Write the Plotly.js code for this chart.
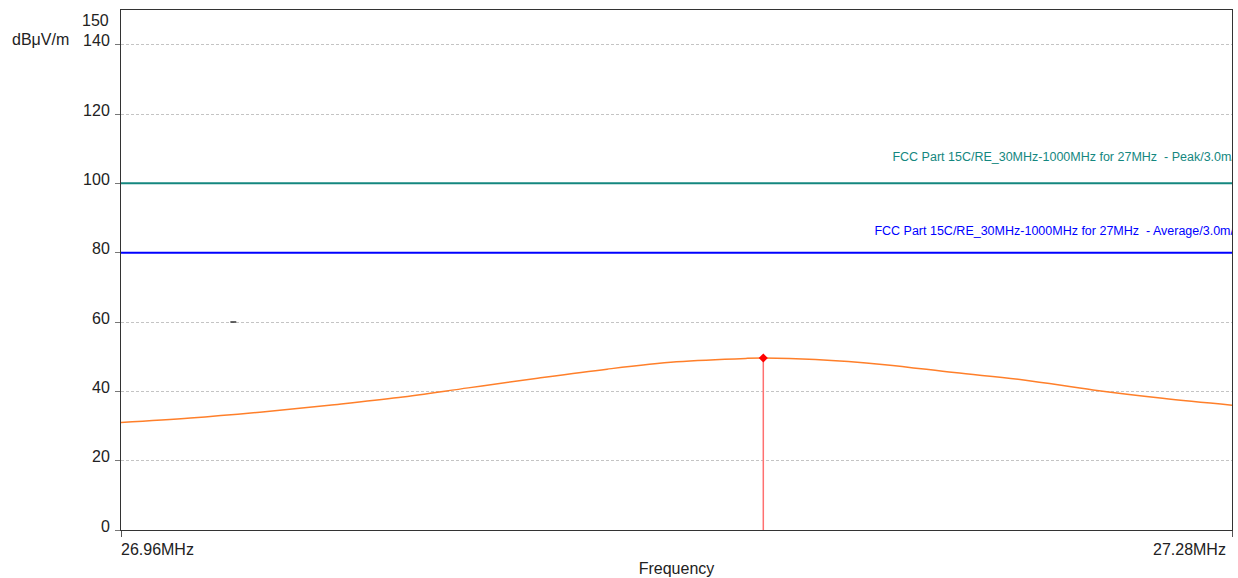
<!DOCTYPE html>
<html>
<head>
<meta charset="utf-8">
<script src="https://cdn.plot.ly/plotly-3.0.1.min.js"></script>
<style>html,body{margin:0;padding:0;background:#fff;}#chart{width:1238px;height:578px;}</style>
</head>
<body>
<div id="chart"></div>
<script>
// Data (frequency in MHz, level in dBµV/m)
const freqMHz = [26.96, 26.98, 27.00, 27.02, 27.04, 27.06, 27.08, 27.10, 27.12, 27.14, 27.145, 27.16, 27.18, 27.20, 27.22, 27.24, 27.26, 27.28];
const levelDb = [31.0, 32.3, 34.0, 36.0, 38.2, 41.0, 43.8, 46.4, 48.5, 49.5, 49.6, 49.2, 47.7, 45.4, 43.3, 40.4, 38.0, 36.0];
const peakFreq = 27.145;
const peakLevel = 49.6;
const limitPeakLevel = 100;
const limitAvgLevel = 80;
const limitPeakLabel = "FCC Part 15C/RE_30MHz-1000MHz for 27MHz  - Peak/3.0m/";
const limitAvgLabel = "FCC Part 15C/RE_30MHz-1000MHz for 27MHz  - Average/3.0m/";
const freqRange = [26.96, 27.28];
const levelRange = [0, 150];
const yTickVals = [0, 20, 40, 60, 80, 100, 120, 140];
const xTickLabels = ["26.96MHz", "27.28MHz"];
const stubFreq = [26.9915, 26.9932];
const stubLevel = [60, 60];

const FONT = "Arial, 'Liberation Sans', sans-serif";

const traces = [
  {x: freqRange, y: [limitPeakLevel, limitPeakLevel], mode: "lines", line: {color: "#14877f", width: 2}, hoverinfo: "skip"},
  {x: freqRange, y: [limitAvgLevel, limitAvgLevel], mode: "lines", line: {color: "#0000ff", width: 2}, hoverinfo: "skip"},
  {x: [27.1822], y: [limitPeakLevel + 7.3], mode: "text", text: [limitPeakLabel], textposition: "middle right",
   textfont: {family: FONT, size: 12.5, color: "#14877f"}, cliponaxis: true},
  {x: [27.1770], y: [limitAvgLevel + 6.1], mode: "text", text: [limitAvgLabel], textposition: "middle right",
   textfont: {family: FONT, size: 12.5, color: "#0000ff"}, cliponaxis: true},
  {x: freqMHz, y: levelDb, mode: "lines", line: {color: "#ff7f2a", width: 1.5, shape: "spline"}},
  {x: [peakFreq, peakFreq], y: [0, peakLevel], mode: "lines", line: {color: "#ff7070", width: 1.5}},
  {x: [peakFreq], y: [peakLevel], mode: "markers", marker: {symbol: "diamond", size: 7, color: "#ff0000"}},
  {x: stubFreq, y: stubLevel, mode: "lines", line: {color: "#333", width: 1.5}}
];

const layout = {
  width: 1238, height: 578,
  margin: {l: 121, r: 6, t: 10, b: 48},
  paper_bgcolor: "#fff", plot_bgcolor: "#fff",
  showlegend: false,
  font: {family: FONT, size: 16, color: "#222"},
  xaxis: {
    range: freqRange, showgrid: false, zeroline: false,
    showline: true, linecolor: "#333", linewidth: 1, mirror: true,
    tickvals: freqRange, ticks: "outside", ticklen: 6, tickcolor: "#555",
    showticklabels: false,
    title: {text: "Frequency", font: {family: FONT, size: 16, color: "#222"}, standoff: 26}
  },
  yaxis: {
    range: levelRange, zeroline: false,
    showline: true, linecolor: "#333", linewidth: 1, mirror: true,
    tickvals: yTickVals, ticks: "outside", ticklen: 5, tickcolor: "#777",
    showgrid: true, gridcolor: "#c4c4c4", griddash: "3px,2px", gridwidth: 1,
    tickfont: {family: FONT, size: 16, color: "#222"},
    ticklabelshift: -4, ticklabelstandoff: 2
  },
  annotations: [
    {xref: "paper", yref: "paper", x: 0, y: 0, xanchor: "left", yanchor: "top", yshift: -9, xshift: -2,
     text: xTickLabels[0], showarrow: false, font: {family: FONT, size: 16, color: "#222"}},
    {xref: "paper", yref: "paper", x: 1, y: 0, xanchor: "right", yanchor: "top", yshift: -9, xshift: -4,
     text: xTickLabels[1], showarrow: false, font: {family: FONT, size: 16, color: "#222"}},
    {xref: "paper", yref: "y", x: 0, y: levelRange[1], xanchor: "right", yanchor: "middle", xshift: -10, yshift: -10,
     text: "150", showarrow: false, font: {family: FONT, size: 16, color: "#222"}},
    {xref: "paper", yref: "y", x: 0, y: 140, xanchor: "right", yanchor: "middle", xshift: -50, yshift: 5,
     text: "dBμV/m", showarrow: false, font: {family: FONT, size: 16, color: "#222"}}
  ]
};

Plotly.newPlot("chart", traces, layout, {displayModeBar: false, staticPlot: true});
</script>
</body>
</html>
